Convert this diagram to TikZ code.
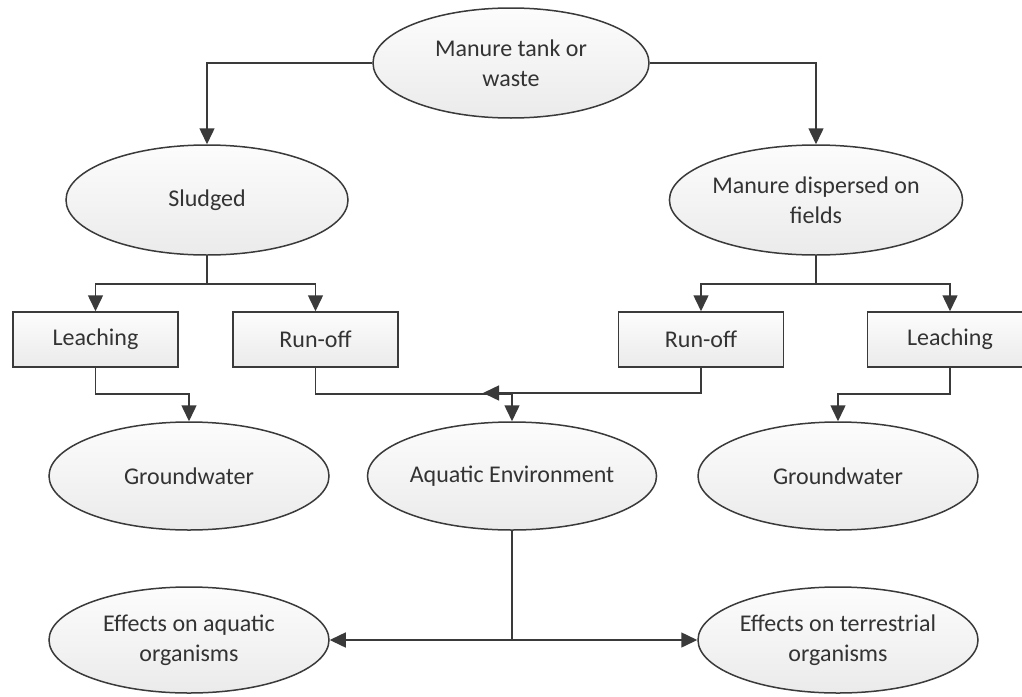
\documentclass[tikz,border=0pt]{standalone}
\usepackage{fontspec}
\setmainfont{Carlito}
\usetikzlibrary{shapes.geometric,arrows.meta,calc}
\definecolor{linec}{HTML}{3A3A3A}
\definecolor{textc}{HTML}{333333}
\tikzset{
  base/.style={draw=linec, line width=1.5pt, text=textc, font=\fontsize{24}{30}\selectfont, align=center,
     top color=gray!2, bottom color=gray!16, inner sep=0pt},
  oval/.style={base, ellipse, minimum width=280pt, minimum height=110pt},
  boxn/.style={base, rectangle, minimum width=165pt, minimum height=55pt},
  conn/.style={draw=linec, line width=1.5pt},
  arr/.style={conn, -{Triangle[length=16pt,width=15pt]}}
}
\begin{document}
\begin{tikzpicture}[x=1pt,y=-1pt]
\useasboundingbox (0,0) rectangle (1022,696);
\clip (0,0) rectangle (1022,696);
\fill[white] (0,0) rectangle (1022,696);

\node[oval, minimum width=276pt] (top) at (511,63) {Manure tank or\\waste};
\node[oval, minimum width=282pt] (sludge) at (207,200) {Sludged};
\node[oval, minimum width=282pt] (disp) at (816,200) {Manure dispersed on\\fields};

\node[boxn] (lleach) at (95.5,339.5) {Leaching};
\node[boxn] (lrun) at (315.5,339.5) {Run-off};
\node[boxn] (rrun) at (701,339.5) {Run-off};
\node[boxn] (rleach) at (950,339.5) {Leaching};

\node[oval, minimum height=108pt] (lgw) at (189,476) {Groundwater};
\node[oval, minimum height=108pt] (aqu) at (512,476) {Aquatic Environment};
\node[oval, minimum height=108pt] (rgw) at (838,476) {Groundwater};

\node[oval, minimum height=106pt] (eaq) at (189,640) {Effects on aquatic\\organisms};
\node[oval, minimum height=106pt] (eter) at (838,640) {Effects on terrestrial\\organisms};

\draw[arr] (top.west) -| (sludge.north);
\draw[arr] (top.east) -| (disp.north);

\coordinate (j1) at (207,284);
\coordinate (j2) at (816,284);
\draw[conn] (sludge.south) -- (j1);
\draw[arr] (j1) -| (lleach.north);
\draw[arr] (j1) -| (lrun.north);
\draw[conn] (disp.south) -- (j2);
\draw[arr] (j2) -| (rrun.north);
\draw[arr] (j2) -| (rleach.north);

\draw[arr] (lleach.south) -- ++(0,26) -| (lgw.north);
\draw[arr] (lrun.south) -- ++(0,26) -| (aqu.north);
\coordinate (tipL) at (483,393);
\draw[arr] (rrun.south) |- (tipL);
\draw[arr] (rleach.south) -- ++(0,26) -| (rgw.north);

\coordinate (m) at (aqu.south |- eaq.east);
\draw[conn] (aqu.south) -- (m);
\draw[arr] (m) -- (eaq.east);
\draw[arr] (m) -- (eter.west);
\end{tikzpicture}
\end{document}
